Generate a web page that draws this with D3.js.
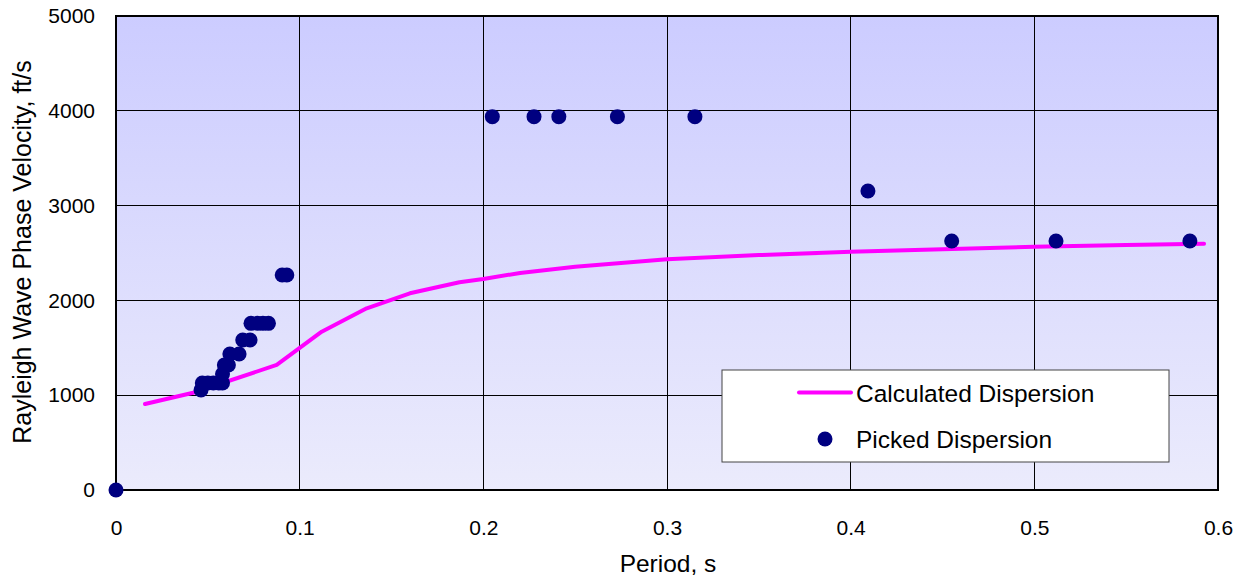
<!DOCTYPE html>
<html>
<head>
<meta charset="utf-8">
<script src="https://cdn.jsdelivr.net/npm/d3@7"></script>
<style>
  body { margin: 0; background: #fff; }
  svg { display: block; font-family: "Liberation Sans", Arial, sans-serif; }
</style>
</head>
<body>
<svg id="chart" width="1246" height="580"></svg>
<script>
(function () {

    // calculated dispersion curve (period s, velocity ft/s)
    var calcPeriod = [0.0158, 0.042, 0.0875, 0.112, 0.1365, 0.160, 0.187, 0.2, 0.22, 0.25, 0.3, 0.35, 0.4, 0.45, 0.5, 0.55, 0.5924];
    var calcVel    = [907, 1026, 1319, 1670, 1917, 2075, 2191, 2225, 2290, 2356, 2434, 2478, 2512, 2540, 2566, 2585, 2598];

    // picked dispersion points
    var pickPeriod = [0, 0.0463, 0.047, 0.050, 0.053, 0.056, 0.058, 0.058, 0.059, 0.0612, 0.062, 0.067, 0.069, 0.073,
                      0.0735, 0.077, 0.080, 0.083, 0.0905, 0.093,
                      0.2049, 0.2276, 0.2411, 0.2730, 0.3152, 0.4094, 0.455, 0.5118, 0.5847];
    var pickVel    = [0, 1055, 1128, 1128, 1128, 1128, 1128, 1224, 1318, 1318, 1435, 1435, 1582, 1582,
                      1758, 1758, 1758, 1758, 2268, 2268,
                      3938, 3938, 3938, 3938, 3938, 3154, 2627, 2627, 2627];

    var xTicks = [0, 0.1, 0.2, 0.3, 0.4, 0.5, 0.6];
    var yTicks = [0, 1000, 2000, 3000, 4000, 5000];
    var legendLabels = ["Calculated Dispersion", "Picked Dispersion"];

    var left = 116, right = 1218, top = 16, bottom = 490;

    var x = d3.scaleLinear().domain([0, 0.6]).range([left, right]);
    var y = d3.scaleLinear().domain([0, 5000]).range([bottom, top]);

    var svg = d3.select("#chart");

    var defs = svg.append("defs");
    var grad = defs.append("linearGradient")
        .attr("id", "bg").attr("x1", 0).attr("y1", 0).attr("x2", 0).attr("y2", 1);
    grad.append("stop").attr("offset", "0%").attr("stop-color", "#ccccff");
    grad.append("stop").attr("offset", "100%").attr("stop-color", "#ebebfc");

    svg.append("rect")
        .attr("x", left).attr("y", top)
        .attr("width", right - left).attr("height", bottom - top)
        .style("fill", "url(#bg)");

    // grid
    svg.append("g").selectAll("line").data(xTicks.slice(1, -1)).enter().append("line")
        .attr("x1", function (d) { return x(d); }).attr("x2", function (d) { return x(d); })
        .attr("y1", top).attr("y2", bottom)
        .style("stroke", "#000").style("stroke-width", 1).attr("shape-rendering", "crispEdges");
    svg.append("g").selectAll("line").data(yTicks.slice(1, -1)).enter().append("line")
        .attr("y1", function (d) { return y(d); }).attr("y2", function (d) { return y(d); })
        .attr("x1", left).attr("x2", right)
        .style("stroke", "#000").style("stroke-width", 1).attr("shape-rendering", "crispEdges");

    svg.append("rect")
        .attr("x", left).attr("y", top)
        .attr("width", right - left).attr("height", bottom - top)
        .style("fill", "none").style("stroke", "#000").style("stroke-width", 2);

    // axes (labels only)
    var xAxis = svg.append("g")
        .attr("transform", "translate(0," + (bottom + 30) + ")")
        .call(d3.axisBottom(x).tickValues(xTicks).tickSize(0).tickPadding(0)
            .tickFormat(function (d) { return d === 0 ? "0" : d3.format(".1f")(d); }));
    xAxis.select(".domain").remove();
    xAxis.selectAll("text").style("font-size", "21px").style("fill", "#000")
        .style("font-family", "Liberation Sans, Arial, sans-serif");

    var yAxis = svg.append("g")
        .attr("transform", "translate(" + (left - 21) + ",0)")
        .call(d3.axisLeft(y).tickValues(yTicks).tickSize(0).tickPadding(0)
            .tickFormat(d3.format("d")));
    yAxis.select(".domain").remove();
    yAxis.selectAll("text").style("font-size", "21px").style("fill", "#000")
        .style("font-family", "Liberation Sans, Arial, sans-serif");

    svg.append("text")
        .attr("x", 668).attr("y", 572)
        .style("text-anchor", "middle").style("font-size", "24.5px")
        .text("Period, s");

    svg.append("text")
        .attr("transform", "translate(31,252) rotate(-90)")
        .style("text-anchor", "middle").style("font-size", "25px")
        .text("Rayleigh Wave Phase Velocity, ft/s");

    // calculated line
    var line = d3.line()
        .x(function (d) { return x(d[0]); })
        .y(function (d) { return y(d[1]); });
    svg.append("path")
        .datum(d3.zip(calcPeriod, calcVel))
        .attr("d", line)
        .style("fill", "none").style("stroke", "#ff00ff").style("stroke-width", 4)
        .style("stroke-linejoin", "round").style("stroke-linecap", "round");

    // picked points
    svg.append("g").selectAll("circle")
        .data(d3.zip(pickPeriod, pickVel)).enter().append("circle")
        .attr("cx", function (d) { return x(d[0]); })
        .attr("cy", function (d) { return y(d[1]); })
        .attr("r", 7.5)
        .style("fill", "#000080");

    // legend
    var lg = svg.append("g");
    lg.append("rect")
        .attr("x", 722).attr("y", 370).attr("width", 447).attr("height", 92)
        .style("fill", "#fff").style("stroke", "#444").style("stroke-width", 1);
    lg.append("line")
        .attr("x1", 799).attr("x2", 851).attr("y1", 392.5).attr("y2", 392.5)
        .style("stroke", "#ff00ff").style("stroke-width", 4).style("stroke-linecap", "round");
    lg.append("circle").attr("cx", 825).attr("cy", 439).attr("r", 7.5).style("fill", "#000080");
    lg.selectAll("text.lab").data(legendLabels).enter().append("text")
        .attr("class", "lab")
        .attr("x", 856)
        .attr("y", function (d, i) { return i ? 448 : 402; })
        .style("font-size", "24.5px")
        .text(function (d) { return d; });
}());
</script>
</body>
</html>
